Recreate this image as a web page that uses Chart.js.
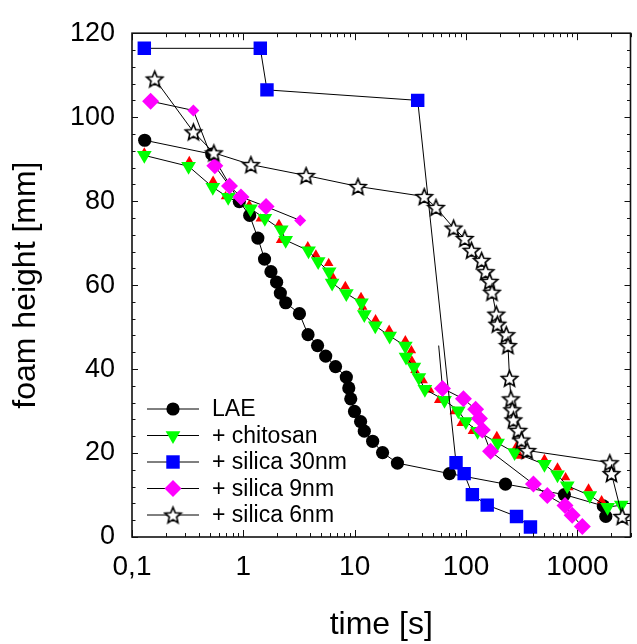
<!DOCTYPE html>
<html>
<head>
<meta charset="utf-8">
<script src="https://cdn.jsdelivr.net/npm/chart.js@4.4.0/dist/chart.umd.min.js"></script>
<style>
  html, body { margin: 0; padding: 0; overflow: hidden; background: #fff; }
  canvas { display: block; }
</style>
</head>
<body>
<canvas id="foam" width="640" height="644"></canvas>
<script>
// values (time in s, foam height in mm)
const laeTime = [0.13, 0.52, 0.92, 1.14, 1.35, 1.55, 1.77, 1.99, 2.15, 2.4, 3.19, 3.81, 4.64, 5.49, 6.73, 8.41, 8.85, 9.22, 9.96, 11.3, 12.2, 14.5, 17.8, 24.2, 71, 226, 764, 1710, 1800];
const laeHeight = [94.5, 91.2, 79.9, 76.6, 71.2, 66.2, 63.2, 60.7, 58.1, 55.8, 53.2, 48.2, 45.6, 43.1, 40.6, 38.1, 35.5, 32.9, 29.9, 27.5, 25.2, 22.8, 20.1, 17.6, 15.1, 12.6, 10.1, 7.4, 4.9];

const chitosanTime = [0.129, 0.322, 0.532, 0.731, 1.16, 1.56, 2.19, 2.4, 3.85, 4.7, 5.9, 6.27, 8.41, 11.5, 12.2, 15.3, 20.6, 28.5, 28.9, 34.0, 37.7, 42.7, 64.1, 85.2, 99.6, 127, 192, 273, 506, 663, 811, 1294, 1867, 2480];
const chitosanHeight = [90.9, 88.3, 83.3, 80.9, 78.2, 75.9, 73.2, 70.7, 68.2, 65.6, 63.2, 60.5, 58.0, 55.8, 53.0, 50.3, 47.9, 45.5, 42.9, 40.5, 38.0, 35.2, 32.6, 30.1, 27.5, 25.2, 22.4, 20.1, 17.3, 14.8, 12.2, 9.9, 7.1, 7.6];

// red triangles under the chitosan points (not in the legend)
const redTime = [0.129, 0.327, 0.535, 0.692, 1.13, 1.42, 2.09, 2.16, 3.79, 4.48, 5.84, 6.33, 8.24, 11.4, 11.8, 15.4, 20.4, 28.5, 32.3, 32.6, 34.8, 41.2, 47.3, 56.8, 78.5, 90.6, 114, 189, 284, 304, 506, 663, 784, 840, 1260, 1650];
const redHeight = [91.5, 89.5, 84.8, 81.1, 79.1, 75.8, 74.5, 70.7, 69.2, 67.2, 65.2, 62.0, 59.7, 57.1, 54.8, 51.8, 49.3, 46.8, 44.4, 42.0, 39.7, 37.3, 35.0, 32.6, 29.9, 27.1, 25.2, 24.0, 21.6, 19.3, 18.5, 16.5, 14.2, 11.8, 11.5, 8.7];

const silica30Time = [0.129, 1.42, 1.63, 36.8, 81.3, 96.2, 114, 155, 284, 379];
const silica30Height = [116.4, 116.4, 106.5, 104.0, 17.7, 15.1, 10.1, 7.6, 4.9, 2.4];

const silica9TimeA = [0.147, 0.356, 0.554, 0.751, 0.952, 1.6, 3.24];
const silica9HeightA = [103.8, 101.6, 88.4, 83.6, 81.0, 78.7, 75.4];
const silica9TimeB = [56.8, 61.5, 94.8, 122, 132, 140, 166, 403, 537, 774, 898, 1107];
const silica9HeightB = [45.6, 35.4, 32.9, 30.4, 28.2, 25.5, 20.4, 12.6, 9.9, 7.5, 5.2, 2.5];

const silica6Time = [0.16, 0.356, 0.543, 1.17, 3.66, 10.7, 42.1, 53.7, 77.3, 97.5, 112, 138, 150, 163, 171, 187, 191, 230, 238, 246, 253, 260, 266, 294, 314, 354, 1954, 2023, 2529];
const silica6Height = [109.1, 96.5, 91.5, 88.7, 86.1, 83.5, 81.1, 78.5, 73.6, 71.1, 68.3, 65.9, 63.2, 60.9, 58.3, 53.1, 50.7, 48.2, 45.6, 37.8, 32.9, 30.3, 27.9, 25.4, 23.1, 20.6, 17.7, 15.1, 4.9];

const xTicks = [0.1, 1, 10, 100, 1000];
const xTickLabels = ['0,1', '1', '10', '100', '1000'];
const legendLabels = ['LAE', '+ chitosan', '+ silica 30nm', '+ silica 9nm', '+ silica 6nm'];

const pts = (t, h) => t.map((x, i) => ({ x: x, y: h[i] }));

// open star marker
function makeStar(r) {
  const size = Math.ceil(r * 2 + 4);
  const c = document.createElement('canvas');
  c.width = size; c.height = size;
  const g = c.getContext('2d');
  const cx = size / 2, cy = size / 2 + r * 0.1;
  g.beginPath();
  for (let i = 0; i < 10; i++) {
    const rr = i % 2 ? r * 0.45 : r;
    const a = -Math.PI / 2 + i * Math.PI / 5;
    const px = cx + rr * Math.cos(a), py = cy + rr * Math.sin(a);
    if (i) g.lineTo(px, py); else g.moveTo(px, py);
  }
  g.closePath();
  g.fillStyle = '#fff';
  g.fill();
  g.strokeStyle = '#000';
  g.lineWidth = 1.6;
  g.lineJoin = 'miter';
  g.stroke();
  return c;
}
const star = makeStar(8.5);

const markers = [
  { pointStyle: 'circle', radius: 6.6, rotation: 0, fill: '#000', stroke: '#000' },
  { pointStyle: 'triangle', radius: 8.5, rotation: 180, fill: '#00ff00', stroke: '#00ff00' },
  { pointStyle: 'rect', radius: 9.5, rotation: 0, fill: '#0000ff', stroke: '#0000ff' },
  { pointStyle: 'rectRot', radius: 8.5, rotation: 0, fill: '#ff00ff', stroke: '#ff00ff' },
  { pointStyle: star, radius: 8.5, rotation: 0, fill: '#fff', stroke: '#000' }
];

function series(data, m, order, extra) {
  return Object.assign({
    data: data,
    showLine: true,
    borderColor: '#000',
    borderWidth: 1,
    pointStyle: m.pointStyle,
    pointRadius: m.radius,
    pointRotation: m.rotation,
    pointBackgroundColor: m.fill,
    pointBorderColor: m.stroke,
    pointBorderWidth: 0,
    order: order
  }, extra || {});
}

// inside ticks on all four sides + frame
const frame = {
  id: 'frame',
  afterDraw(chart) {
    const { ctx, chartArea: a, scales: { x, y } } = chart;
    ctx.save();
    ctx.strokeStyle = '#111';
    ctx.lineWidth = 1;
    ctx.beginPath();
    for (let d = 0.1; d <= 1000; d *= 10) {
      for (let m = 1; m <= 9; m++) {
        const v = d * m;
        if (v > x.max) break;
        const px = Math.round(x.getPixelForValue(v)) + 0.5;
        const len = m === 1 ? 7 : 4;
        ctx.moveTo(px, a.bottom); ctx.lineTo(px, a.bottom - len);
        ctx.moveTo(px, a.top); ctx.lineTo(px, a.top + len);
      }
    }
    for (let v = 0; v <= 120; v += 4) {
      const py = Math.round(y.getPixelForValue(v)) + 0.5;
      const len = v % 20 === 0 ? 6 : 3.5;
      ctx.moveTo(a.left, py); ctx.lineTo(a.left + len, py);
      ctx.moveTo(a.right, py); ctx.lineTo(a.right - len, py);
    }
    ctx.stroke();
    ctx.lineWidth = 1.6;
    ctx.strokeRect(a.left, a.top, a.right - a.left, a.bottom - a.top);

    // legend
    const rowY = [409, 435.5, 462, 488.5, 515];
    ctx.font = '23px "Liberation Sans", Arial, sans-serif';
    ctx.textBaseline = 'middle';
    ctx.textAlign = 'left';
    legendLabels.forEach((label, i) => {
      const m = markers[i];
      ctx.strokeStyle = '#000';
      ctx.lineWidth = 1;
      ctx.beginPath();
      ctx.moveTo(147, rowY[i]); ctx.lineTo(199, rowY[i]);
      ctx.stroke();
      ctx.fillStyle = m.fill;
      ctx.strokeStyle = m.stroke;
      Chart.helpers.drawPoint(ctx, { pointStyle: m.pointStyle, radius: m.radius, rotation: m.rotation, borderWidth: 0 }, 173, rowY[i]);
      ctx.fillStyle = '#000';
      ctx.fillText(label, 212, rowY[i] + 1);
    });
    ctx.restore();
  }
};

const ctx = document.getElementById('foam');
new Chart(ctx, {
  type: 'scatter',
  data: {
    datasets: [
      series(pts(laeTime, laeHeight), markers[0], 5, { label: legendLabels[0] }),
      series(pts(chitosanTime, chitosanHeight), markers[1], 3, { label: legendLabels[1] }),
      series(pts(redTime, redHeight), { pointStyle: 'triangle', radius: 5.5, rotation: 0, fill: '#ff0000', stroke: '#ff0000' }, 4, { showLine: false }),
      series(pts(silica30Time, silica30Height), markers[2], 2, { label: legendLabels[2] }),
      series(pts(silica9TimeA, silica9HeightA), markers[3], 1, {
        label: legendLabels[3],
        pointRadius: silica9TimeA.map((t, i) => (i === 1 || i === 6) ? 6 : 8.5)
      }),
      series(pts(silica9TimeB, silica9HeightB), markers[3], 1, {
        pointRadius: silica9TimeB.map((t, i) => i === 0 ? 0 : 8.5)
      }),
      series(pts(silica6Time, silica6Height), markers[4], 0, { label: legendLabels[4] })
    ]
  },
  options: {
    responsive: false,
    animation: false,
    devicePixelRatio: 1,
    layout: { padding: { top: 27, right: 1, left: 0, bottom: 0 } },
    plugins: { legend: { display: false }, tooltip: { enabled: false } },
    scales: {
      x: {
        type: 'logarithmic',
        min: 0.1,
        max: 3000,
        afterFit: (s) => { s.height = 107; },
        afterBuildTicks: (s) => { s.ticks = xTicks.map(v => ({ value: v })); },
        grid: { display: false, drawTicks: false },
        border: { display: false },
        ticks: {
          autoSkip: false,
          maxRotation: 0,
          padding: 13,
          color: '#000',
          font: { family: '"Liberation Sans", Arial, sans-serif', size: 28 },
          callback: (v) => xTickLabels[xTicks.indexOf(v)]
        },
        title: {
          display: true,
          text: 'time [s]',
          color: '#000',
          font: { family: '"Liberation Sans", Arial, sans-serif', size: 32 },
          padding: { top: 0, bottom: 0 }
        }
      },
      y: {
        min: 0,
        max: 120,
        afterFit: (s) => { s.width = 132; },
        grid: { display: false, drawTicks: false },
        border: { display: false },
        ticks: {
          stepSize: 20,
          padding: 17,
          color: '#000',
          font: { family: '"Liberation Sans", Arial, sans-serif', size: 27 }
        },
        title: {
          display: true,
          text: 'foam height [mm]',
          color: '#000',
          font: { family: '"Liberation Sans", Arial, sans-serif', size: 32 },
          padding: { top: 7, bottom: 0 }
        }
      }
    }
  },
  plugins: [frame]
});
</script>
</body>
</html>
